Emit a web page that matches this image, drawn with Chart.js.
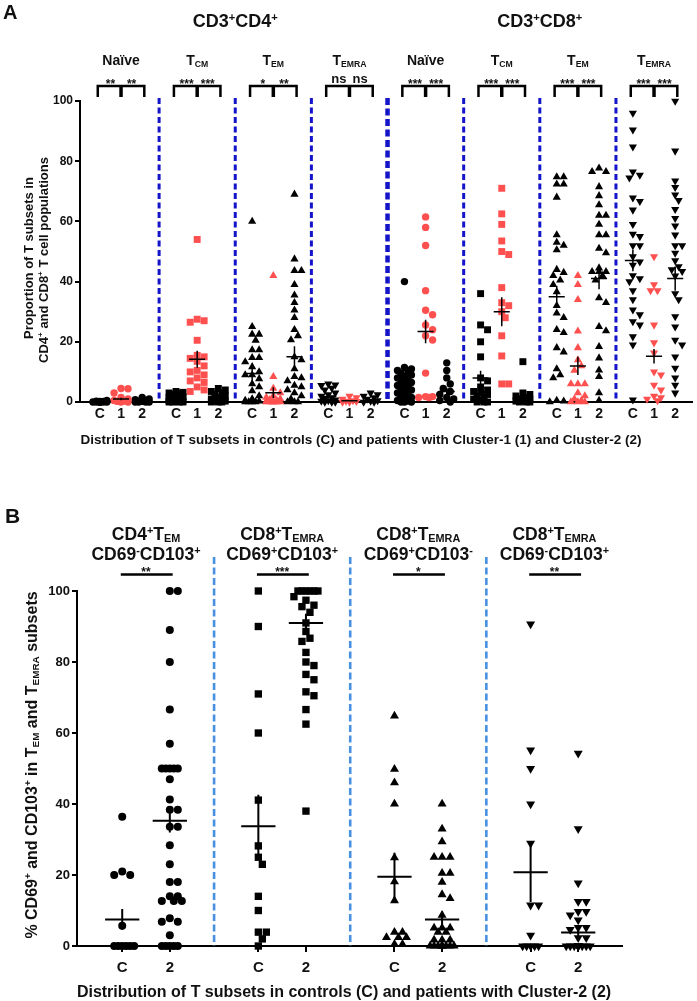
<!DOCTYPE html>
<html>
<head>
<meta charset="utf-8">
<script src="https://cdn.jsdelivr.net/npm/chart.js@4.4.1/dist/chart.umd.min.js"></script>
<style>
  body { margin: 0; background: #fff; }
  #wrap { position: relative; width: 697px; height: 1001px; }
  canvas { position: absolute; left: 0; }
  #chartA { top: 0; width: 697px; height: 470px; }
  #chartB { top: 480px; width: 697px; height: 521px; }
</style>
</head>
<body>
<div id="wrap">
  <canvas id="chartA" width="697" height="470"></canvas>
  <canvas id="chartB" width="697" height="521"></canvas>
</div>
<script>
// 공통 글꼴과 색
const FONT = '"Liberation Sans", Arial, Helvetica, sans-serif';
const RED = '#ff5050';
const BLUE_A = '#1414c8';
const BLUE_B = '#4a90e2';
Chart.defaults.font.family = FONT;
Chart.defaults.color = '#111';

// ===== A 패널 데이터 =====
const armsA = ['C', '1', '2'];
const subsetNames = ['Naïve', 'T_{CM}', 'T_{EM}', 'T_{EMRA}'];
const starsA = [['**', '**'], ['***', '***'], ['*', '**'], ['ns', 'ns'],
                ['***', '***'], ['***', '***'], ['***', '***'], ['***', '***']];

// CD3+CD4+
const cd4NaiveC = [0, 0, 0, 0, 0, 0, 0, 0, 0.2, 0.2, 0.3, 0.5];
const cd4Naive1 = [4.5, 4.4, 3, 1.5, 1, 0.5, 0.3, 0.2, 0, 0];
const cd4Naive2 = [1.5, 1, 0.8, 0.5, 0.3, 0.2, 0, 0, 0, 0];
const cd4TcmC = [3.5, 3.2, 3, 2.8, 2.5, 2, 1.8, 1.5, 1.2, 1, 0.8, 0.6, 0.5, 0.3, 0.2, 0.1, 0, 0, 0, 0];
const cd4Tcm1 = [54, 27.5, 27, 26.5, 20.5, 15.5, 15, 14.5, 13.5, 12, 10.5, 10, 9, 8, 7, 6.5, 5, 4, 3.5];
const cd4Tcm2 = [4.5, 4, 3.5, 3, 2.5, 2, 1.5, 1, 0.8, 0.5, 0.3, 0, 0, 0];
const cd4TemC = [60, 25, 22.5, 22.5, 20.5, 17.3, 17.3, 14.7, 14.7, 13.3, 11.7, 10, 9, 9, 7.7, 6, 5, 3.7, 2, 1, 0.5, 0.3, 0, 0, 0, 0];
const cd4Tem1 = [42, 8.4, 4.5, 3, 2, 1.5, 1, 0.8, 0.5, 0.3, 0.2, 0, 0, 0, 0, 0, 0, 0];
const cd4Tem2 = [69, 47.5, 43.6, 43.6, 39, 35.5, 33, 30.5, 28, 24, 22, 20.6, 15, 14, 11, 8.4, 8, 7, 5.5, 5, 4, 3, 2, 1, 0, 0, 0];
const cd4TemraC = [6, 5.7, 5.5, 4.6, 4, 3, 2.5, 2, 1.5, 1, 0.7, 0.5, 0.3, 0, 0, 0];
const cd4Temra1 = [2, 1.5, 1, 0.5, 0.3, 0.2, 0, 0];
const cd4Temra2 = [3, 2.5, 2, 1.5, 1, 0.5, 0.3, 0, 0];

// CD3+CD8+
const cd8NaiveC = [40, 11.5, 11, 10.5, 10, 9.5, 9, 8.5, 8, 7.5, 7, 6.5, 6, 5.5, 5, 4.5, 4, 3.5, 3, 2.5, 2, 1.5, 1, 0.5, 0.3, 0, 0, 0];
const cd8Naive1 = [61.5, 58, 52, 37, 30.5, 29, 25.6, 24, 22, 20.6, 9.6, 1.8, 1.8, 1.5, 1.5];
const cd8Naive2 = [13, 10.5, 8, 6, 4.5, 3.5, 2.5, 1.5, 1, 0.5, 0];
const cd8TcmC = [36, 25.6, 24, 20, 15, 8, 7, 5, 4, 3.5, 3, 2.5, 2, 1.5, 1, 0.5, 0, 0, 0];
const cd8Tcm1 = [71, 62.5, 59, 53.5, 50, 49, 38, 33, 32, 30, 28, 22, 15.3, 6, 6];
const cd8Tcm2 = [13.4, 3, 2.5, 2, 1.5, 1, 1, 0.5, 0.3, 0, 0, 0];
const cd8TemC = [74.8, 74.8, 72.4, 72.4, 68, 55.5, 53, 52, 50.5, 44, 43, 42, 40.5, 39, 36.6, 32, 29.5, 28, 24, 23, 18, 16.6, 11, 9, 8, 0.5, 0.3, 0];
const cd8Tem1 = [42, 39, 34, 23.5, 18, 14, 12, 10.5, 6, 6, 6, 3, 2, 1, 0.5, 0, 0, 0];
const cd8Tem2 = [77.7, 76.5, 76.5, 71.5, 68.5, 65.5, 62, 62, 59, 55.5, 55.5, 51, 49.5, 44.5, 43.3, 43.3, 43.3, 42, 40.5, 34.6, 33, 25, 23.6, 18.4, 14.6, 10.6, 8.4, 3, 0.5];
const cd8TemraC = [96, 90.4, 84.8, 76.5, 75.4, 74.5, 67.8, 66.7, 63.8, 59, 55.8, 55, 52, 52, 48.3, 46.6, 45.5, 42, 41, 40, 37, 34, 30.6, 29, 26.7, 25.6, 21.7, 19, 0.7];
const cd8Temra1 = [48.3, 39, 37, 37, 25.6, 19.7, 16.3, 10, 9, 5.6, 4, 2, 1.5, 1, 0.5];
const cd8Temra2 = [100, 83.4, 73.5, 71.3, 68.8, 67, 64, 61, 58.5, 55.5, 52, 52, 49.5, 47, 45, 44, 43.4, 41.9, 36, 34, 28.4, 25, 20.6, 19, 15, 11.3, 8, 5.6, 3];

// 평균 ± SEM, 순서: 집단별 C, 1, 2
const meansA = [0.1, 1, 0.3, 1.2, 14.2, 1.5, 9.5, 3.1, 15, 1.8, 0.4, 0.6,
                6, 23.4, 3.5, 8, 30, 1.5, 35, 12, 41, 47, 15.2, 41];
const semsA = [0.05, 0.4, 0.1, 0.3, 2.8, 0.4, 2.4, 1.8, 3.5, 0.4, 0.15, 0.2,
               1.3, 3.9, 1.2, 2.4, 4.8, 0.8, 3.5, 3, 3.5, 3.6, 2.4, 4];

// ===== B 패널 데이터 =====
const armsB = ['C', '2'];
const titlesB = [['CD4^{+}T_{EM}', 'CD69^{-}CD103^{+}'],
                 ['CD8^{+}T_{EMRA}', 'CD69^{+}CD103^{+}'],
                 ['CD8^{+}T_{EMRA}', 'CD69^{+}CD103^{-}'],
                 ['CD8^{+}T_{EMRA}', 'CD69^{-}CD103^{+}']];
const starsB = ['**', '***', '*', '**'];

const temCd69negC = [36.4, 21, 20, 20, 5.7, 0, 0, 0, 0, 0, 0];
const temCd69neg2 = [100, 100, 89, 80, 66.6, 57, 50, 50, 50, 50, 50, 47, 41.3, 38.4, 38.4, 33.6, 33.6, 28.4, 23, 18, 18, 14, 14, 12.7, 12.7, 12.7, 7.8, 6.8, 6.8, 3, 0, 0, 0, 0, 0];
const temraDpC = [100, 90, 71, 60, 41.1, 28.2, 25, 23, 14, 10, 3.9, 3.9, 2, 0];
const temraDp2 = [100, 100, 100, 100, 100, 100, 98.4, 97.4, 96, 95.6, 94, 91, 88.6, 86.7, 85.8, 82.7, 80, 79, 76.5, 75, 71.6, 70.5, 66.6, 62.5, 38];
const temraCd103negC = [64.8, 49.8, 46, 40, 24.9, 18.1, 12.8, 3.9, 3.9, 2.4, 2.4, 2.4, 0.5, 0.5];
const temraCd103neg2 = [40, 33, 29.4, 25, 25, 25, 20.5, 20.5, 18, 14.5, 13.4, 8.7, 5.1, 5.1, 5.1, 3.9, 3.9, 1.7, 1.7, 1.7, 0, 0, 0, 0, 0, 0, 0, 0, 0];
const temraCd69negC = [90.7, 55.2, 50, 40, 28.9, 11.5, 11.5, 3, 0, 0, 0, 0, 0];
const temraCd69neg2 = [54.3, 33, 17.7, 12.5, 12.5, 9.7, 9.7, 8.7, 7.3, 5.2, 5.2, 4.6, 2.3, 2.3, 0, 0, 0, 0, 0, 0, 0, 0, 0, 0, 0];

const meansB = [7.5, 35.3, 33.7, 91, 19.5, 7.5, 20.8, 3.8];
const semsB = [2.9, 3.3, 8.9, 2.6, 6.8, 2.2, 8.4, 1.95];

// ===== 보조 함수 =====
// 'CD4^{+}T_{EM}' 같은 문자열을 윗첨자/아래첨자 조각으로 나눔
function parseRich(s) {
  return s.split(/(\^\{[^}]*\}|_\{[^}]*\})/).filter(Boolean).map(function(p) {
    if (p[0] === '^') return [p.slice(2, -1), 'sup'];
    if (p[0] === '_') return [p.slice(2, -1), 'sub'];
    return [p, ''];
  });
}
function drawRich(ctx, s, x, y, size, align) {
  const parts = parseRich(s);
  const fontFor = k => 'bold ' + (k ? size * 0.62 : size) + 'px ' + FONT;
  let w = 0;
  parts.forEach(p => { ctx.font = fontFor(p[1]); w += ctx.measureText(p[0]).width; });
  let cx = align === 'center' ? x - w / 2 : (align === 'right' ? x - w : x);
  ctx.textAlign = 'left';
  ctx.textBaseline = 'alphabetic';
  parts.forEach(p => {
    ctx.font = fontFor(p[1]);
    const dy = p[1] === 'sup' ? -size * 0.36 : (p[1] === 'sub' ? size * 0.14 : 0);
    ctx.fillText(p[0], cx, y + dy);
    cx += ctx.measureText(p[0]).width;
  });
}
function drawRichRotated(ctx, s, x, y, size) {
  ctx.save();
  ctx.translate(x, y);
  ctx.rotate(-Math.PI / 2);
  drawRich(ctx, s, 0, 0, size, 'center');
  ctx.restore();
}

// GraphPad 식 점 퍼뜨리기 (값은 그대로, 가로 위치만 계산)
// cap 픽셀 안에서 자리가 없으면 가장 덜 겹치는 자리에 겹쳐 놓음
function swarm(values, center, pxX, pxY, diam, cap) {
  const placed = [];
  const out = new Array(values.length);
  const step = diam * 0.5;
  const cands = [0];
  for (let n = 1; n * step <= cap + 0.01; n++) { cands.push(n * step, -n * step); }
  values.forEach(function(v, i) {
    const y = v * pxY;
    let best = 0, bestD = -1;
    for (const c of cands) {
      const d = placed.reduce((m, p) => Math.min(m, Math.hypot(p.x - c, p.y - y)), Infinity);
      if (d >= diam * 0.9) { best = c; bestD = Infinity; break; }
      if (d > bestD + 0.01) { bestD = d; best = c; }
    }
    placed.push({ x: best, y: y });
    out[i] = center + best / pxX;
  });
  return out;
}

function makeSet(values, center, style, color, radii, pxX, pxY, diam, cap) {
  const xs = swarm(values, center, pxX, pxY, diam, cap);
  return {
    data: values.map((v, i) => ({ x: xs[i], y: v })),
    pointStyle: style === 'down' ? 'triangle' : style,
    pointRotation: style === 'down' ? 180 : 0,
    pointRadius: radii[style],
    pointBackgroundColor: color,
    pointBorderWidth: 0,
    showLine: false,
    clip: false
  };
}

function meanSem(ctx, xScale, yScale, center, mean, sem, half, lw) {
  const x0 = xScale.getPixelForValue(center - half);
  const x1 = xScale.getPixelForValue(center + half);
  const xc = xScale.getPixelForValue(center);
  const ym = yScale.getPixelForValue(mean);
  ctx.lineWidth = lw;
  ctx.beginPath();
  ctx.moveTo(x0, ym); ctx.lineTo(x1, ym);
  ctx.moveTo(xc, yScale.getPixelForValue(mean + sem));
  ctx.lineTo(xc, yScale.getPixelForValue(Math.max(0, mean - sem)));
  ctx.stroke();
}

// ===== A 패널 =====
const GAP_A = 3.6;
const styles = ['circle', 'rect', 'triangle', 'down'];
const groupsA = [
  [cd4NaiveC, cd4Naive1, cd4Naive2], [cd4TcmC, cd4Tcm1, cd4Tcm2],
  [cd4TemC, cd4Tem1, cd4Tem2], [cd4TemraC, cd4Temra1, cd4Temra2],
  [cd8NaiveC, cd8Naive1, cd8Naive2], [cd8TcmC, cd8Tcm1, cd8Tcm2],
  [cd8TemC, cd8Tem1, cd8Tem2], [cd8TemraC, cd8Temra1, cd8Temra2]
];
const radiiA = { circle: 3.7, rect: 4.9, triangle: 4.7, down: 4.7 };
const tickPosA = [];
const setsA = [];
groupsA.forEach(function(arms, g) {
  arms.forEach(function(vals, k) {
    const c = g * GAP_A + k;
    tickPosA.push(c);
    setsA.push(makeSet(vals, c, styles[g % 4], k === 1 ? RED : '#000', radiiA, 21.25, 3.01, 7, 8));
  });
});

const decorA = {
  id: 'decorA',
  beforeDatasetsDraw(chart) {
    const { ctx, chartArea, scales: { x } } = chart;
    ctx.save();
    ctx.strokeStyle = BLUE_A;
    for (let g = 0; g < 7; g++) {
      const px = x.getPixelForValue(g * GAP_A + 2.8);
      ctx.lineWidth = g === 3 ? 4.5 : 3;
      ctx.setLineDash(g === 3 ? [7, 3.5] : [6, 3.5]);
      ctx.beginPath();
      ctx.moveTo(px, chartArea.top - 3);
      ctx.lineTo(px, chartArea.bottom);
      ctx.stroke();
    }
    ctx.restore();
  },
  afterDatasetsDraw(chart) {
    const { ctx, scales: { x, y } } = chart;
    ctx.save();
    ctx.strokeStyle = '#000';
    tickPosA.forEach((c, i) => meanSem(ctx, x, y, c, meansA[i], semsA[i], 0.38, 1.5));
    ctx.restore();
  },
  afterDraw(chart) {
    const { ctx, scales: { x } } = chart;
    ctx.save();
    ctx.fillStyle = '#111';
    ctx.strokeStyle = '#000';
    // 패널 글자와 큰 제목
    ctx.font = 'bold 20px ' + FONT;
    ctx.textAlign = 'left';
    ctx.fillText('A', 3, 19);
    drawRich(ctx, 'CD3^{+}CD4^{+}', x.getPixelForValue(1.5 * GAP_A + 1), 27, 18, 'center');
    drawRich(ctx, 'CD3^{+}CD8^{+}', x.getPixelForValue(5.5 * GAP_A + 1), 27, 18, 'center');
    groupsA.forEach(function(arms, g) {
      const c0 = g * GAP_A;
      drawRich(ctx, subsetNames[g % 4], x.getPixelForValue(c0 + 1), 65, 14, 'center');
      // 괄호
      const xl = x.getPixelForValue(c0 - 0.1), xm = x.getPixelForValue(c0 + 1), xr = x.getPixelForValue(c0 + 2.1);
      ctx.lineWidth = 2.5;
      ctx.beginPath();
      ctx.moveTo(xl, 97); ctx.lineTo(xl, 86); ctx.lineTo(xr, 86); ctx.lineTo(xr, 97);
      ctx.stroke();
      ctx.lineWidth = 3.5;
      ctx.beginPath(); ctx.moveTo(xm, 86); ctx.lineTo(xm, 97); ctx.stroke();
      // 유의성 표시
      starsA[g].forEach(function(s, j) {
        const sx = x.getPixelForValue(c0 + 0.5 + j);
        ctx.textAlign = 'center';
        if (s === 'ns') { ctx.font = 'bold 13px ' + FONT; ctx.fillText(s, sx, 83); }
        else { ctx.font = 'bold 12px ' + FONT; ctx.fillText(s, sx, 88); }
      });
    });
    // 축 제목
    ctx.font = 'bold 13.5px ' + FONT;
    ctx.textAlign = 'center';
    ctx.fillText('Distribution of T subsets in controls (C) and patients with Cluster-1 (1) and Cluster-2 (2)', 361, 444);
    drawRichRotated(ctx, 'Proportion of T subsets in', 33, 258, 13);
    drawRichRotated(ctx, 'CD4^{+} and CD8^{+} T cell populations', 48, 260, 13);
    ctx.restore();
  }
};

new Chart(document.getElementById('chartA'), {
  type: 'scatter',
  data: { datasets: setsA },
  options: {
    responsive: false,
    animation: false,
    events: [],
    layout: { padding: { top: 101, right: 2, left: 0, bottom: 0 } },
    plugins: { legend: { display: false }, tooltip: { enabled: false } },
    scales: {
      x: {
        type: 'linear', min: -0.94, max: 28,
        afterFit(s) { s.height = 68; },
        afterBuildTicks(s) { s.ticks = tickPosA.map(v => ({ value: v })); },
        grid: { display: false, drawTicks: false },
        border: { display: true, color: '#000', width: 2 },
        ticks: {
          autoSkip: false, maxRotation: 0, padding: 4,
          font: { size: 14, weight: 'bold' }, color: '#111',
          callback: (v, i) => armsA[i % 3]
        }
      },
      y: {
        min: 0, max: 100,
        afterFit(s) { s.width = 80; },
        grid: { drawOnChartArea: false, drawTicks: true, tickLength: 5, color: '#000', lineWidth: 2 },
        border: { display: true, color: '#000', width: 2 },
        ticks: { stepSize: 20, padding: 2, font: { size: 12, weight: 'bold' }, color: '#111' }
      }
    }
  },
  plugins: [decorA]
});

// ===== B 패널 =====
const GAP_B = 2.86;
const groupsB = [[temCd69negC, temCd69neg2], [temraDpC, temraDp2],
                 [temraCd103negC, temraCd103neg2], [temraCd69negC, temraCd69neg2]];
const radiiB = { circle: 4, rect: 5.2, triangle: 5.2, down: 5.2 };
const tickPosB = [];
const setsB = [];
groupsB.forEach(function(arms, g) {
  arms.forEach(function(vals, k) {
    const c = g * GAP_B + k;
    tickPosB.push(c);
    setsB.push(makeSet(vals, c, styles[g], '#000', radiiB, 47.6, 3.55, 8, 12));
  });
});

const decorB = {
  id: 'decorB',
  beforeDatasetsDraw(chart) {
    const { ctx, chartArea, scales: { x } } = chart;
    ctx.save();
    ctx.strokeStyle = BLUE_B;
    ctx.lineWidth = 2.6;
    ctx.setLineDash([7, 3.5]);
    for (let g = 0; g < 3; g++) {
      const px = x.getPixelForValue(g * GAP_B + 1.93);
      ctx.beginPath();
      ctx.moveTo(px, chartArea.top - 34);
      ctx.lineTo(px, chartArea.bottom);
      ctx.stroke();
    }
    ctx.restore();
  },
  afterDatasetsDraw(chart) {
    const { ctx, scales: { x, y } } = chart;
    ctx.save();
    ctx.strokeStyle = '#000';
    tickPosB.forEach((c, i) => meanSem(ctx, x, y, c, meansB[i], semsB[i], 0.36, 2));
    ctx.restore();
  },
  afterDraw(chart) {
    const { ctx, scales: { x } } = chart;
    ctx.save();
    ctx.fillStyle = '#111';
    ctx.strokeStyle = '#000';
    ctx.font = 'bold 21px ' + FONT;
    ctx.textAlign = 'left';
    ctx.fillText('B', 5, 43);
    titlesB.forEach(function(lines, g) {
      const cx = x.getPixelForValue(g * GAP_B + 0.5);
      drawRich(ctx, lines[0], cx, 60, 17.5, 'center');
      drawRich(ctx, lines[1], cx, 80, 17.5, 'center');
      ctx.lineWidth = 2.5;
      ctx.beginPath();
      ctx.moveTo(x.getPixelForValue(g * GAP_B - 0.03), 94.5);
      ctx.lineTo(x.getPixelForValue(g * GAP_B + 1.06), 94.5);
      ctx.stroke();
      ctx.font = 'bold 12px ' + FONT;
      ctx.textAlign = 'center';
      ctx.fillText(starsB[g], cx, 96);
    });
    ctx.font = 'bold 16px ' + FONT;
    ctx.textAlign = 'center';
    ctx.fillText('Distribution of T subsets in controls (C) and patients with Cluster-2 (2)', 344, 517);
    drawRichRotated(ctx, '% CD69^{+} and CD103^{+} in T_{EM} and T_{EMRA} subsets', 37, 285, 16);
    ctx.restore();
  }
};

new Chart(document.getElementById('chartB'), {
  type: 'scatter',
  data: { datasets: setsB },
  options: {
    responsive: false,
    animation: false,
    events: [],
    layout: { padding: { top: 111, right: 75, left: 0, bottom: 0 } },
    plugins: { legend: { display: false }, tooltip: { enabled: false } },
    scales: {
      x: {
        type: 'linear', min: -0.95, max: 10.5,
        afterFit(s) { s.height = 55; },
        afterBuildTicks(s) { s.ticks = tickPosB.map(v => ({ value: v })); },
        grid: { drawOnChartArea: false, drawTicks: true, tickLength: 6, color: '#000', lineWidth: 2 },
        border: { display: true, color: '#000', width: 2 },
        ticks: {
          autoSkip: false, maxRotation: 0, padding: 7,
          font: { size: 15, weight: 'bold' }, color: '#111',
          callback: (v, i) => armsB[i % 2]
        }
      },
      y: {
        min: 0, max: 100,
        afterFit(s) { s.width = 77; },
        grid: { drawOnChartArea: false, drawTicks: true, tickLength: 5, color: '#000', lineWidth: 2 },
        border: { display: true, color: '#000', width: 2 },
        ticks: { stepSize: 20, padding: 2, font: { size: 13, weight: 'bold' }, color: '#111' }
      }
    }
  },
  plugins: [decorB]
});
</script>
</body>
</html>
